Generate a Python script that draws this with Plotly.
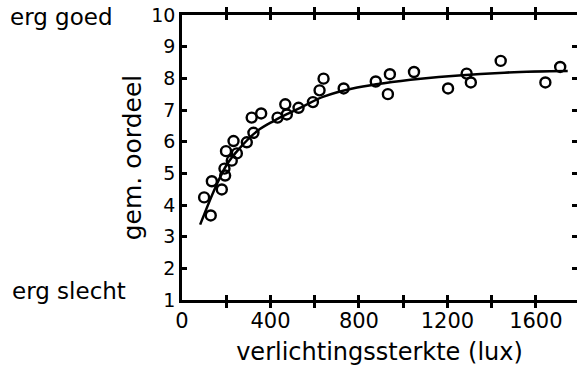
import plotly.graph_objects as go

# measured points (illuminance in lux, mean rating)
lux = [100, 130, 135, 180, 195, 192, 199, 225, 233, 248, 293, 323, 315, 358,
       432, 474, 467, 527, 592, 622, 640, 731, 876, 940, 931, 1049,
       1203, 1287, 1306, 1441, 1643, 1710]
rating = [4.24, 3.67, 4.75, 4.49, 4.93, 5.15, 5.70, 5.40, 6.02, 5.63, 5.98, 6.28, 6.76, 6.89,
          6.76, 6.86, 7.18, 7.07, 7.25, 7.62, 7.99, 7.68, 7.90, 8.13, 7.50, 8.20,
          7.68, 8.15, 7.87, 8.55, 7.87, 8.36]

# fitted curve
curve_lux = [82, 150, 203, 263, 339, 414, 490, 550, 640, 792, 1079, 1457, 1744]
curve_rating = [3.38, 4.54, 5.28, 5.81, 6.33, 6.65, 6.92, 7.12, 7.42, 7.71, 7.99, 8.18, 8.23]

x_tickvals = [0, 200, 400, 600, 800, 1000, 1200, 1400, 1600]
x_ticktext = ["0", "", "400", "", "800", "", "1200", "", "1600"]
y_tickvals = [1, 2, 3, 4, 5, 6, 7, 8, 9, 10]
y_ticktext = [str(v) for v in y_tickvals]

FONT = "DejaVu Sans"

fig = go.Figure()
fig.add_trace(go.Scatter(x=curve_lux, y=curve_rating, mode="lines",
                         line=dict(color="black", width=2.5, shape="spline"),
                         hoverinfo="skip", showlegend=False))
fig.add_trace(go.Scatter(x=lux, y=rating, mode="markers",
                         marker=dict(symbol="circle-open", size=10, color="black",
                                     line=dict(width=2.4, color="black")),
                         showlegend=False))
# invisible trace to host the right-hand tick axis
fig.add_trace(go.Scatter(x=[0], y=[1], yaxis="y2", mode="markers",
                         marker=dict(opacity=0), hoverinfo="skip", showlegend=False))

fig.update_layout(
    width=579, height=369,
    margin=dict(l=182, r=2, t=15, b=69),
    paper_bgcolor="white", plot_bgcolor="white",
    font=dict(family=FONT, color="black", size=19),
    xaxis=dict(range=[0, 1786], tickvals=x_tickvals, ticktext=x_ticktext,
               ticks="inside", ticklen=5, tickwidth=2.5, tickcolor="black",
               showline=True, linewidth=2.5, linecolor="black", mirror="allticks",
               showgrid=False, zeroline=False,
               tickfont=dict(size=21, family=FONT),
               title=dict(text="verlichtingssterkte (lux)", font=dict(size=24, family=FONT),
                          standoff=12)),
    yaxis=dict(range=[1, 10], tickvals=y_tickvals, ticktext=y_ticktext,
               ticks="inside", ticklen=5, tickwidth=2.5, tickcolor="black",
               showline=True, linewidth=2.5, linecolor="black",
               showgrid=False, zeroline=False,
               tickfont=dict(size=19, family=FONT),
               title=dict(text="gem. oordeel", font=dict(size=25, family=FONT),
                          standoff=3)),
    yaxis2=dict(range=[1, 10], overlaying="y", side="right", tickvals=y_tickvals,
                ticks="inside", ticklen=5, tickwidth=2.5, tickcolor="black",
                showticklabels=False, showline=False, showgrid=False, zeroline=False),
    annotations=[
        dict(text="erg goed", xref="paper", yref="y", x=-0.17, y=9.95, xanchor="right",
             yanchor="middle", showarrow=False, font=dict(size=23, family=FONT)),
        dict(text="erg slecht", xref="paper", yref="y", x=-0.137, y=1.3, xanchor="right",
             yanchor="middle", showarrow=False, font=dict(size=23, family=FONT)),
    ],
)

fig.write_html("out.html")
